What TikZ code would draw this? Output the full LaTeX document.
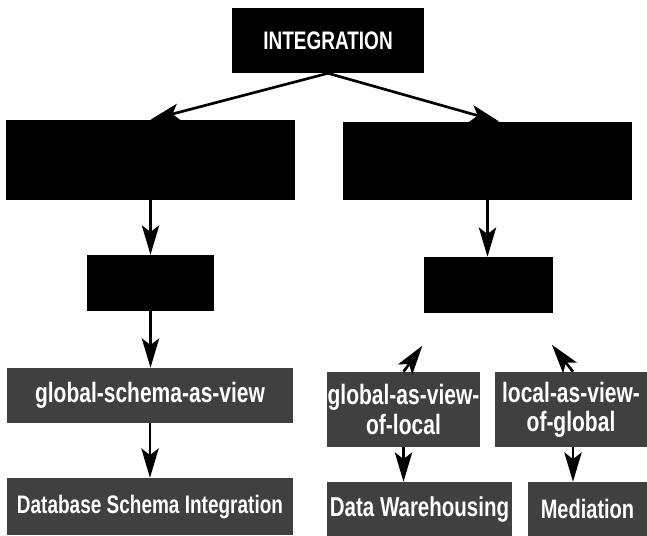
\documentclass[tikz,border=0pt]{standalone}
\usepackage{fontspec}
\setsansfont{Liberation Sans}[FakeStretch=0.75]
\usetikzlibrary{arrows.meta}

\begin{document}
\begin{tikzpicture}[x=0.75pt,y=0.75pt,yscale=-1,xscale=1,
  topbox/.style={fill=black, text=white, inner sep=0pt, font=\sffamily\bfseries\fontsize{19}{20}\selectfont},
  catbox/.style={fill=black, inner sep=0pt},
  leafbox/.style={fill=black!75, text=white, inner sep=0pt, align=center, font=\sffamily\bfseries\fontsize{21}{22}\selectfont},
  arr/.style={line width=2pt, -{Stealth[length=22pt,width=13pt,inset=5pt]}}
]
\useasboundingbox (0,0) rectangle (647,536);

% top and the two black boxes below it
\node[topbox, minimum width=144pt, minimum height=48.75pt] (integ) at (328,40.5) {INTEGRATION};
\node[catbox, minimum width=216.75pt, minimum height=60pt] (cat1) at (150.5,160) {};
\node[catbox, minimum width=216.75pt, minimum height=58.5pt] (cat2) at (487.5,161) {};
\node[catbox, minimum width=95.25pt, minimum height=42pt] (sub1) at (150.5,283) {};
\node[catbox, minimum width=96.75pt, minimum height=42pt] (sub2) at (488.5,285) {};

% grey boxes
\node[leafbox, minimum width=214.5pt, minimum height=41.25pt] (gsv) at (150,395.5) {global-schema-as-view};
\node[leafbox, minimum width=214.5pt, minimum height=42.75pt, font=\sffamily\bfseries\fontsize{19}{20}\selectfont] (dsi) at (150,506.5) {Database Schema Integration};
\node[leafbox, minimum width=114.75pt, minimum height=56.25pt] (gavl) at (403.5,409.5) {global-as-view-\\of-local};
\node[leafbox, minimum width=114pt, minimum height=56.25pt] (lavg) at (571,409.5) {local-as-view-\\of-global};
\node[leafbox, minimum width=138.75pt, minimum height=40.5pt, font=\sffamily\bfseries\fontsize{20.5}{21}\selectfont] (dw) at (419.5,509) {Data Warehousing};
\node[leafbox, minimum width=89.25pt, minimum height=40.5pt, font=\sffamily\bfseries\fontsize{20}{21}\selectfont] (med) at (587.5,509) {Mediation};

% arrows
\draw[arr] (integ.south) -- (cat1.north);
\draw[arr] (integ.south) -- ([xshift=9pt]cat2.north);
\draw[arr] (cat1.south) -- (cat1.south |- sub1.north);
\draw[arr] (cat2.south) -- (cat2.south |- sub2.north);
\draw[arr] (sub1.south) -- (sub1.south |- gsv.north);
\draw[arr] (gsv.south) -- (gsv.south |- dsi.north);
\draw[arr, shorten >=30pt] (gavl.north) -- ([xshift=-32pt]sub2.south);
\draw[arr, shorten >=30pt] ([xshift=1.5pt]lavg.north) -- ([xshift=29pt]sub2.south);
\draw[arr] (gavl.south) -- (gavl.south |- dw.north);
\draw[arr] ([xshift=1.5pt]lavg.south) -- ([xshift=1.5pt]lavg.south |- med.north);
\end{tikzpicture}
\end{document}
